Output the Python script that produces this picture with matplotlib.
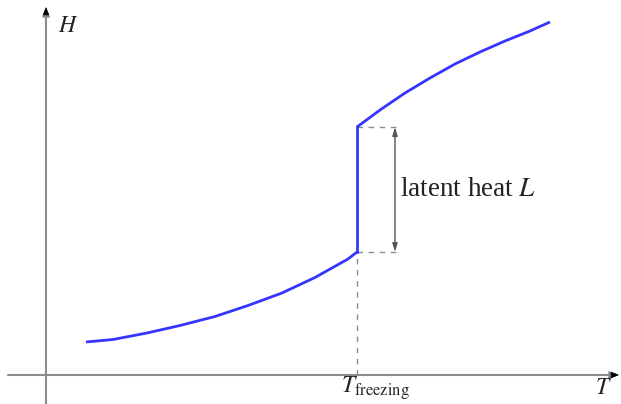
import matplotlib

matplotlib.use("Agg")

import matplotlib.pyplot as plt

# enthalpy vs temperature, origin at the axis crossing
T_solid = [40, 67, 101, 134, 169, 202, 236, 269, 302, 311]
H_solid = [33, 35.5, 42, 49.5, 58.5, 69.5, 82, 97.5, 116, 123]
T_liquid = [311, 334, 359, 384, 409, 434, 459, 484, 504]
H_liquid = [248, 265, 282, 297, 311, 323, 334, 344, 353]
T_freeze = 311
bracket_T = 349
dash_end_T = 354

CURVE_COLOR = "#3535ff"
AXIS_COLOR = "#8c8c8c"

plt.rcParams["mathtext.fontset"] = "stix"
plt.rcParams["font.family"] = "Liberation Serif"

fig = plt.figure(figsize=(6.21, 4.04), dpi=100)
ax = fig.add_axes([0, 0, 1, 1])
ax.set_xlim(-46, 575)
ax.set_ylim(-29, 375)
ax.axis("off")

head = "-|>,head_length=0.5,head_width=0.2"

# axes with arrowheads
ax.annotate("", xy=(573, 0), xytext=(-38, 0),
            arrowprops=dict(arrowstyle=head, color=AXIS_COLOR, lw=1.5, shrinkA=0, shrinkB=0))
ax.annotate("", xy=(0, 368), xytext=(0, -29),
            arrowprops=dict(arrowstyle=head, color=AXIS_COLOR, lw=1.5, shrinkA=0, shrinkB=0))
# black tips
ax.annotate("", xy=(573, 0), xytext=(566, 0),
            arrowprops=dict(arrowstyle=head, color="black", lw=0.5, shrinkA=0, shrinkB=0))
ax.annotate("", xy=(0, 368), xytext=(0, 361),
            arrowprops=dict(arrowstyle=head, color="black", lw=0.5, shrinkA=0, shrinkB=0))

# dashed guides
dash = (0, (4, 4))
ax.plot([T_freeze, T_freeze], [0, H_solid[-1]], color=AXIS_COLOR, lw=1, ls=dash)
ax.plot([T_freeze, dash_end_T], [H_solid[-1], H_solid[-1]], color=AXIS_COLOR, lw=1, ls=dash)
ax.plot([T_freeze, dash_end_T], [H_liquid[0], H_liquid[0]], color=AXIS_COLOR, lw=1, ls=dash)

# latent heat bracket
ax.annotate("", xy=(bracket_T, H_liquid[0]), xytext=(bracket_T, H_solid[-1]),
            arrowprops=dict(arrowstyle="<|-|>,head_length=0.5,head_width=0.15", color="#555555", lw=1,
                            shrinkA=0, shrinkB=0))

# enthalpy curve with the jump at freezing
ax.plot(T_solid, H_solid, color=CURVE_COLOR, lw=2, solid_capstyle="butt", solid_joinstyle="round")
ax.plot([T_freeze, T_freeze], [H_solid[-1], H_liquid[0]], color=CURVE_COLOR, lw=2)
ax.plot(T_liquid, H_liquid, color=CURVE_COLOR, lw=2, solid_capstyle="butt", solid_joinstyle="round")

ax.text(354, 185, r"latent heat $L$", fontsize=19.5, ha="left", va="center", color="#222222")
ax.text(12, 349, r"$H$", fontsize=17, ha="left", va="center", color="#222222")
ax.text(549, -13, r"$T$", fontsize=17, ha="left", va="center", color="#222222")
ax.text(295, -13, r"$T_{\rm freezing}$", fontsize=17, ha="left", va="center", color="#222222")

fig.savefig("out.png", dpi=100)
